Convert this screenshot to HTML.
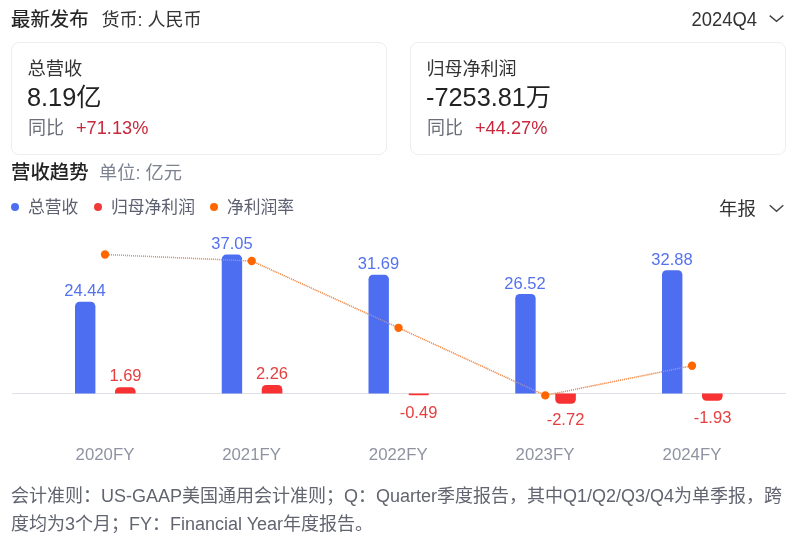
<!DOCTYPE html>
<html lang="zh-CN">
<head>
<meta charset="utf-8">
<title>财务数据</title>
<style>
*{box-sizing:border-box;margin:0;padding:0}
html,body{width:800px;height:545px;background:#fff;overflow:hidden}
body{font-family:"Liberation Sans","Noto Sans CJK SC",sans-serif;color:#222;position:relative}
.abs{position:absolute;white-space:nowrap;line-height:1}
.hd{left:11px;top:10px;font-size:19.4px;color:#222}
.hd b{font-weight:400;-webkit-text-stroke:0.2px #222}
.hd span{margin-left:13px;font-weight:400;color:#333;font-size:18px}
.sel{font-size:18px;color:#333}
.card{position:absolute;top:42px;width:376px;height:113px;border:1px solid #eeeeee;border-radius:8px;background:#fff}
.card .t{left:15.5px;top:17px;font-size:18.3px;color:#333}
.card .v{left:15px;top:42px;font-size:25.3px;color:#222}
.card .y{left:16px;top:76px;font-size:18px;color:#6c6f7a}
.card .y i{font-style:normal;color:#c8283c;margin-left:12px;font-size:18.2px}
.sec{left:11px;top:163px;font-size:19.4px}
.sec b{font-weight:500;color:#222}
.sec span{margin-left:10.5px;color:#7d8290;font-size:18.2px}
.lg{top:199.5px;font-size:16.8px;color:#5c6070}
.dot{position:absolute;width:8.2px;height:8.2px;border-radius:50%}
.xl{top:446.7px;font-size:16.8px;color:#8f93a1;transform:translateX(-50%)}
.bl{font-size:16.5px;transform:translateX(-50%)}
.blue{color:#5471ee}.red{color:#e54040}
.note{position:absolute;left:11px;top:482px;width:776px;font-size:18px;line-height:28px;color:#626570}
</style>
</head>
<body>
<div class="abs hd"><b>最新发布</b><span>货币: 人民币</span></div>
<div class="abs sel" style="left:691.5px;top:11.2px;font-size:18.4px;transform:scaleY(1.06);transform-origin:0 85%">2024Q4</div>
<svg class="abs" style="left:768px;top:14px" width="17" height="11" viewBox="0 0 17 11"><path d="M1.7 1.6 L8.5 7.3 L15.3 1.6" fill="none" stroke="#444" stroke-width="1.4"/></svg>

<div class="card" style="left:11px">
  <div class="abs t">总营收</div>
  <div class="abs v">8.19亿</div>
  <div class="abs y">同比<i>+71.13%</i></div>
</div>
<div class="card" style="left:410px">
  <div class="abs t" style="font-size:18px">归母净利润</div>
  <div class="abs v">-7253.81万</div>
  <div class="abs y">同比<i>+44.27%</i></div>
</div>

<div class="abs sec"><b>营收趋势</b><span>单位: 亿元</span></div>

<div class="dot" style="left:11px;top:203px;background:#4e6ef2"></div>
<div class="abs lg" style="left:28px">总营收</div>
<div class="dot" style="left:94px;top:203px;background:#f03a3a"></div>
<div class="abs lg" style="left:111px">归母净利润</div>
<div class="dot" style="left:210px;top:203px;background:#ff6600"></div>
<div class="abs lg" style="left:227px">净利润率</div>

<div class="abs sel" style="left:719px;top:200px;font-size:18.5px">年报</div>
<svg class="abs" style="left:768px;top:203px" width="17" height="11" viewBox="0 0 17 11"><path d="M1.7 2.2 L8.5 8.2 L15.3 2.2" fill="none" stroke="#444" stroke-width="1.4"/></svg>

<svg class="abs" style="left:0;top:0" width="800" height="545" viewBox="0 0 800 545">
  <line x1="12" y1="393.5" x2="786" y2="393.5" stroke="#e0e1e6" stroke-width="1"/>
  <polyline points="105,254.5 251.75,261 398.5,327.8 545.25,395.4 692,365.75" fill="none" stroke="#e8610c" stroke-width="1.4" stroke-dasharray="1 1"/>
  <g fill="#4e6ef2">
    <path d="M75.00 393.5 V306.35 a4.5 4.5 0 0 1 4.5 -4.5 h11.40 a4.5 4.5 0 0 1 4.5 4.5 V393.5 Z"/>
    <path d="M221.75 393.5 V259.06 a4.5 4.5 0 0 1 4.5 -4.5 h11.40 a4.5 4.5 0 0 1 4.5 4.5 V393.5 Z"/>
    <path d="M368.50 393.5 V279.16 a4.5 4.5 0 0 1 4.5 -4.5 h11.40 a4.5 4.5 0 0 1 4.5 4.5 V393.5 Z"/>
    <path d="M515.25 393.5 V298.55 a4.5 4.5 0 0 1 4.5 -4.5 h11.40 a4.5 4.5 0 0 1 4.5 4.5 V393.5 Z"/>
    <path d="M662.00 393.5 V274.70 a4.5 4.5 0 0 1 4.5 -4.5 h11.40 a4.5 4.5 0 0 1 4.5 4.5 V393.5 Z"/>
  </g>
  <g fill="#f83232">
    <path d="M115.00 393.5 V391.66 a4.5 4.5 0 0 1 4.5 -4.5 h11.60 a4.5 4.5 0 0 1 4.5 4.5 V393.5 Z"/>
    <path d="M261.75 393.5 V389.52 a4.5 4.5 0 0 1 4.5 -4.5 h11.60 a4.5 4.5 0 0 1 4.5 4.5 V393.5 Z"/>
    <path d="M408.50 393.5 V393.50 a1.8375 1.8375 0 0 0 1.8375 1.8375 h16.93 a1.8375 1.8375 0 0 0 1.8375 -1.8375 V393.5 Z"/>
    <path d="M555.25 393.5 V399.20 a4.5 4.5 0 0 0 4.5 4.5 h11.60 a4.5 4.5 0 0 0 4.5 -4.5 V393.5 Z"/>
    <path d="M702.00 393.5 V396.24 a4.5 4.5 0 0 0 4.5 4.5 h11.60 a4.5 4.5 0 0 0 4.5 -4.5 V393.5 Z"/>
  </g>
  <polyline points="105,254.5 251.75,261 398.5,327.8 545.25,395.4 692,365.75" fill="none" stroke="#ffb890" stroke-opacity="0.55" stroke-width="1.4" stroke-dasharray="1 1"/>
  <g fill="#ff6600">
    <circle cx="105" cy="254.5" r="4.15"/><circle cx="251.75" cy="261" r="4.15"/><circle cx="398.5" cy="327.8" r="4.15"/><circle cx="545.25" cy="395.4" r="4.15"/><circle cx="692" cy="365.75" r="4.15"/>
  </g>
</svg>

<div class="abs bl blue" style="left:85px;top:282px">24.44</div>
<div class="abs bl blue" style="left:232px;top:234.5px">37.05</div>
<div class="abs bl blue" style="left:378.5px;top:255px">31.69</div>
<div class="abs bl blue" style="left:525px;top:274.5px">26.52</div>
<div class="abs bl blue" style="left:672px;top:250.5px">32.88</div>
<div class="abs bl red" style="left:125.5px;top:367px">1.69</div>
<div class="abs bl red" style="left:272px;top:365px">2.26</div>
<div class="abs bl red" style="left:418.5px;top:404px">-0.49</div>
<div class="abs bl red" style="left:565.5px;top:411.3px">-2.72</div>
<div class="abs bl red" style="left:712.5px;top:408.7px">-1.93</div>

<div class="abs xl" style="left:105px">2020FY</div>
<div class="abs xl" style="left:251.6px">2021FY</div>
<div class="abs xl" style="left:398.2px">2022FY</div>
<div class="abs xl" style="left:545px">2023FY</div>
<div class="abs xl" style="left:692px">2024FY</div>

<div class="note">会计准则：US-GAAP美国通用会计准则；Q：Quarter季度报告，其中Q1/Q2/Q3/Q4为单季报，跨度均为3个月；FY：Financial Year年度报告。</div>
</body>
</html>
